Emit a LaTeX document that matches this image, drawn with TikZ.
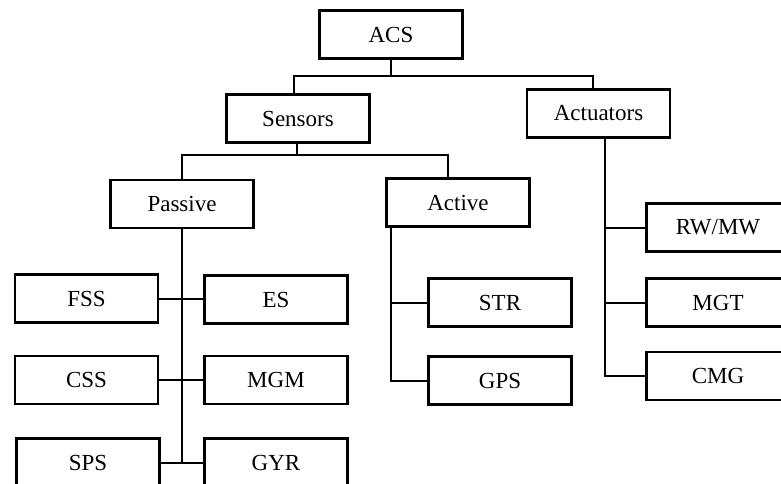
\documentclass[tikz,border=0pt]{standalone}
\usepackage{fontspec}
\setmainfont{Liberation Serif}
\begin{document}
\begin{tikzpicture}[x=1pt,y=-1pt,
  box/.style={draw=black, line width=2.6pt, minimum width=143pt, minimum height=48pt,
    inner sep=0pt, font=\fontsize{23}{27}\selectfont},
  conn/.style={draw=black, line width=2pt}]
\useasboundingbox (0,0) rectangle (781,483);
\clip (0,0) rectangle (781,483);
\fill[white] (0,0) rectangle (781,483);
% boxes
\node[box] (ACS) at (391,34.5) {ACS};
\node[box] (Sensors) at (298,118.5) {Sensors};
\node[box] (Actuators) at (598.5,113.5) {Actuators};
\node[box] (Passive) at (182,204) {Passive};
\node[box] (Active) at (458,202.5) {Active};
\node[box] (FSS) at (86.5,298.5) {FSS};
\node[box] (ES) at (276,299.5) {ES};
\node[box] (CSS) at (86.5,380) {CSS};
\node[box] (MGM) at (276,380) {MGM};
\node[box] (SPS) at (88,462.5) {SPS};
\node[box] (GYR) at (276,462.5) {GYR};
\node[box] (STR) at (500,302.5) {STR};
\node[box] (GPS) at (500,380.5) {GPS};
\node[box] (RW) at (718,227.5) {RW/MW};
\node[box] (MGT) at (718,302.5) {MGT};
\node[box] (CMG) at (718,376) {CMG};
% junction coordinates
\coordinate (b1) at (391,76);
\coordinate (b2) at (297,155);
\coordinate (pend) at (182,462);
\coordinate (aline) at (391,0);
\coordinate (tline) at (605,0);
% level 1
\draw[conn] (ACS.south) -- (b1);
\draw[conn] ([xshift=-4pt]Sensors.north) |- (b1) -| ([xshift=-5.5pt]Actuators.north);
% level 2
\draw[conn] ([xshift=-1pt]Sensors.south) -- (b2);
\draw[conn] (Passive.north) |- (b2) -| ([xshift=-10pt]Active.north);
% passive
\draw[conn] (Passive.south) -- (pend);
\draw[conn] (FSS.east) -- (FSS.east -| ES.west);
\draw[conn] (CSS.east) -- (MGM.west);
\draw[conn] (SPS.east) -- (SPS.east -| GYR.west);
% active
\draw[conn] (Active.south -| aline) |- (GPS.west);
\draw[conn] (STR.west) -- (STR.west -| aline);
% actuators
\draw[conn] (Actuators.south -| tline) |- (CMG.west);
\draw[conn] (RW.west) -- (RW.west -| tline);
\draw[conn] (MGT.west) -- (MGT.west -| tline);
\end{tikzpicture}
\end{document}
